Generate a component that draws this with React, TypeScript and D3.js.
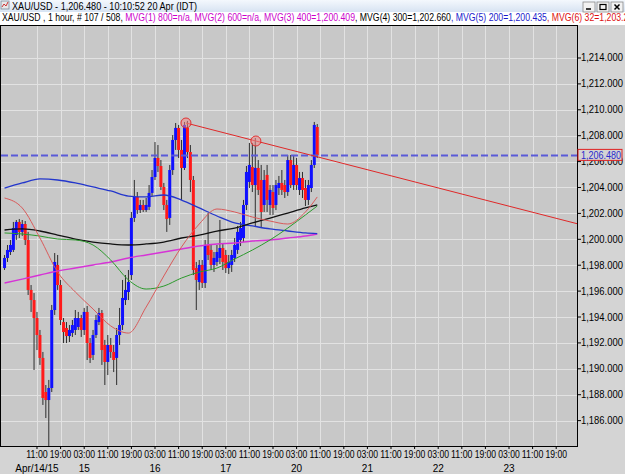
import React from 'react';
import * as d3 from 'd3';

// hourly XAU/USD candles, bar 0 = Apr 14 00:00
const opens = [
  1197.78, 1198.56, 1199.02, 1199.18, 1200.33, 1201.34, 1200.57, 1201.18, 1199.95, 1196.09,
  1195.31, 1193.92, 1192.61, 1190.84, 1188.21, 1187.59, 1188.52, 1194.54, 1198.02, 1196.47,
  1193.61, 1193.15, 1192.53, 1192.77, 1193.0, 1193.23, 1193.92, 1193.0, 1194.39, 1191.99,
  1191.07, 1192.61, 1193.61, 1194.31, 1191.84, 1190.53, 1191.84, 1191.3, 1190.84, 1192.61,
  1193.38, 1195.31, 1195.93, 1197.24, 1201.65, 1203.27, 1202.26, 1202.65, 1202.26, 1202.5,
  1203.58, 1204.81, 1206.28, 1205.66, 1204.04, 1202.65, 1201.65, 1205.35, 1207.67, 1208.6,
  1206.9, 1205.51, 1208.6, 1206.74, 1204.58, 1197.78, 1196.7, 1198.02, 1196.63, 1199.56,
  1199.18, 1198.02, 1198.25, 1198.56, 1199.33, 1198.79, 1197.78, 1198.02, 1198.56, 1199.18,
  1199.95, 1200.1, 1202.65, 1204.43, 1205.58, 1204.19, 1205.51, 1204.58, 1202.65, 1204.97,
  1202.65, 1203.65, 1202.65, 1203.96, 1204.35, 1204.19, 1203.65, 1206.12, 1204.19, 1205.74,
  1203.81, 1204.73, 1203.96, 1203.04, 1203.96, 1205.74, 1208.67,
];
const highs = [
  1198.79, 1199.56, 1199.95, 1201.34, 1201.49, 1201.57, 1201.49, 1201.41, 1200.57, 1196.47,
  1195.85, 1194.39, 1193.0, 1191.3, 1188.75, 1189.14, 1194.93, 1198.94, 1198.79, 1196.86,
  1193.92, 1193.61, 1193.38, 1193.77, 1194.54, 1194.39, 1194.16, 1194.7, 1194.85, 1192.38,
  1193.0, 1194.16, 1194.7, 1194.54, 1192.23, 1192.61, 1192.38, 1191.84, 1193.15, 1194.7,
  1196.86, 1197.24, 1197.63, 1202.11, 1204.58, 1203.65, 1203.04, 1203.04, 1203.19, 1204.19,
  1205.35, 1207.51, 1207.28, 1206.12, 1204.35, 1203.04, 1205.74, 1208.05, 1208.98, 1208.83,
  1207.67, 1209.06, 1209.14, 1207.28, 1204.89, 1198.25, 1198.4, 1198.4, 1199.95, 1202.03,
  1199.64, 1199.02, 1199.56, 1201.49, 1199.64, 1199.18, 1198.79, 1199.18, 1200.1, 1201.03,
  1201.34, 1203.04, 1205.66, 1207.44, 1207.44, 1207.82, 1206.12, 1205.74, 1205.35, 1205.74,
  1204.19, 1204.19, 1204.58, 1204.89, 1205.35, 1204.58, 1206.51, 1206.51, 1206.51, 1206.28,
  1205.2, 1205.2, 1204.58, 1204.58, 1206.12, 1209.06, 1208.9,
];
const lows = [
  1197.63, 1198.25, 1198.79, 1199.02, 1199.95, 1200.1, 1200.26, 1199.56, 1195.7, 1194.39,
  1189.91, 1191.45, 1190.3, 1187.21, 1186.2, 1183.73, 1188.21, 1194.16, 1196.09, 1193.38,
  1191.99, 1191.99, 1192.07, 1192.46, 1192.61, 1193.0, 1192.46, 1192.61, 1190.68, 1190.45,
  1190.68, 1192.38, 1193.38, 1190.3, 1188.75, 1189.52, 1190.84, 1189.75, 1188.75, 1191.84,
  1193.0, 1194.93, 1195.31, 1196.86, 1201.34, 1201.96, 1202.03, 1202.11, 1202.11, 1202.26,
  1203.35, 1204.58, 1205.2, 1203.81, 1202.26, 1200.57, 1201.11, 1204.97, 1206.9, 1206.28,
  1203.04, 1205.35, 1206.28, 1203.65, 1197.24, 1194.54, 1196.09, 1196.24, 1196.24, 1198.4,
  1197.63, 1197.48, 1197.94, 1198.09, 1197.63, 1197.4, 1197.32, 1197.48, 1198.25, 1198.87,
  1199.48, 1199.79, 1202.26, 1203.96, 1203.65, 1200.95, 1203.42, 1200.95, 1202.11, 1202.11,
  1201.88, 1201.88, 1202.26, 1203.42, 1203.42, 1203.19, 1203.35, 1203.96, 1203.81, 1203.81,
  1203.42, 1203.19, 1202.57, 1202.65, 1203.65, 1205.51, 1206.28,
];
const closes = [
  1198.56, 1199.18, 1199.56, 1200.87, 1201.34, 1200.57, 1201.18, 1199.95, 1196.09, 1195.31,
  1193.92, 1192.61, 1190.84, 1187.75, 1187.59, 1188.52, 1194.54, 1198.25, 1196.47, 1193.77,
  1192.84, 1192.53, 1193.0, 1193.38, 1193.92, 1193.92, 1193.0, 1194.39, 1191.99, 1190.84,
  1192.61, 1193.77, 1194.31, 1191.45, 1190.53, 1191.84, 1191.3, 1190.68, 1192.61, 1193.38,
  1195.47, 1196.09, 1196.7, 1201.65, 1203.27, 1202.26, 1202.65, 1202.26, 1202.65, 1203.58,
  1204.81, 1206.28, 1205.66, 1204.04, 1202.65, 1201.57, 1205.35, 1207.67, 1208.6, 1206.9,
  1205.51, 1208.83, 1206.74, 1204.58, 1197.63, 1196.86, 1198.02, 1196.63, 1199.56, 1198.79,
  1198.02, 1198.56, 1199.02, 1199.33, 1198.25, 1197.78, 1198.25, 1198.79, 1199.56, 1200.57,
  1200.87, 1202.65, 1205.2, 1205.74, 1204.19, 1205.51, 1203.81, 1202.11, 1204.58, 1203.04,
  1203.81, 1202.42, 1204.19, 1204.35, 1203.81, 1203.65, 1206.12, 1204.19, 1205.74, 1204.19,
  1204.73, 1203.81, 1203.04, 1204.19, 1205.74, 1208.83, 1206.48,
];

// moving averages read at these bars
const maIdx = [0, 6, 12, 18, 24, 30, 36, 42, 48, 54, 60, 66, 72, 78, 84, 90, 96, 102, 106];
const ma32 = [1203.19, 1202.42, 1200.1, 1197.47, 1195.93, 1194.62, 1193.31, 1192.76, 1194.77, 1197.17, 1199.41, 1201.18, 1202.34, 1202.11, 1201.72, 1201.41, 1201.18, 1202.11, 1203.27];
const ma200 = [1203.96, 1204.35, 1204.66, 1204.58, 1204.35, 1204.04, 1203.73, 1203.34, 1203.27, 1203.42, 1203.03, 1202.42, 1201.8, 1201.26, 1201.03, 1200.8, 1200.64, 1200.49, 1200.44];
const ma300 = [1200.72, 1200.8, 1200.64, 1200.33, 1200.02, 1199.79, 1199.64, 1199.56, 1199.64, 1199.79, 1200.1, 1200.33, 1200.64, 1200.87, 1201.26, 1201.64, 1202.03, 1202.42, 1202.66];
const ma400 = [1196.63, 1196.93, 1197.24, 1197.55, 1197.78, 1198.02, 1198.25, 1198.56, 1198.79, 1199.02, 1199.25, 1199.48, 1199.64, 1199.71, 1199.87, 1199.95, 1200.1, 1200.25, 1200.41];
const maGreen = [1200.49, 1200.41, 1200.25, 1200.02, 1199.95, 1199.56, 1198.4, 1196.86, 1196.16, 1196.39, 1197.01, 1197.47, 1197.78, 1198.48, 1199.17, 1199.95, 1200.87, 1201.88, 1202.57];

const hourLabels = [
  '11:00', '19:00', '03:00', '11:00', '19:00', '03:00', '11:00', '19:00', '03:00', '11:00', '19:00', '03:00',
  '11:00', '19:00', '03:00', '11:00', '19:00', '03:00', '11:00', '19:00', '03:00', '11:00', '19:00',
];
const firstLabelBar = 11;
const barsPerLabel = 8;
const dayLabels = ['Apr/14/15', '15', '16', '17', '20', '21', '22', '23'];
const daySlots = [0, 2, 5, 8, 11, 14, 17, 20];

const priceTicks = [1186, 1188, 1190, 1192, 1194, 1196, 1198, 1200, 1202, 1204, 1206, 1208, 1210, 1212, 1214];
const lastPrice = 1206.48;
// trend line anchors (bar, price)
const trendA = [61.5, 1208.98];
const trendB = [85.2, 1207.59];

// header info line, coloured parts
const infoParts = [
  { t: 'XAU/USD , 1 hour, # 107 / 508, ', c: '#000000' },
  { t: 'MVG(1) 800=n/a, MVG(2) 600=n/a, MVG(3) 400=1,200.409', c: '#cc00cc' },
  { t: ', MVG(4) 300=1,202.660', c: '#000000' },
  { t: ', MVG(5) 200=1,200.435', c: '#1a1acc' },
  { t: ', MVG(6) 32=1,203.272', c: '#dd1111' },
];

const W = 625;
const H = 474;
const plot = { left: 1, right: 577, top: 26, bottom: 446 };
const FONT = '"Liberation Sans", Arial, sans-serif';

const fmt = d3.format(',.3f');

export default function App() {
  const x = d3.scaleLinear().domain([-1.2, 194.05]).range([plot.left, plot.right]);
  const y = d3.scaleLinear().domain([1184.04, 1216.47]).range([plot.bottom, plot.top]);

  const maPath = (vals: number[]) =>
    d3
      .line<number>()
      .x((_, k) => x(maIdx[k]))
      .y((v) => y(v))
      .curve(d3.curveMonotoneX)(vals) || '';

  const slope = (trendB[1] - trendA[1]) / (trendB[0] - trendA[0]);
  const endBar = x.domain()[1];
  const trendEnd = trendA[1] + slope * (endBar - trendA[0]);

  const labelBar = (k: number) => firstLabelBar + k * barsPerLabel;
  const bodyW = 3;

  return (
    <svg width={W} height={H} style={{ position: 'absolute', left: 0, top: 0 }} fontFamily={FONT}>
      <defs>
        <linearGradient id='tb' x1='0' y1='0' x2='0' y2='1'>
          <stop offset='0' stopColor='#f4f8fd' />
          <stop offset='1' stopColor='#d7e3f2' />
        </linearGradient>
        <clipPath id='pc'>
          <rect x={plot.left} y={plot.top} width={plot.right - plot.left} height={plot.bottom - plot.top} />
        </clipPath>
      </defs>

      <rect width={W} height={H} fill='#d4d4d4' />

      {/* window title */}
      <rect x={0} y={0} width={W} height={12} fill='url(#tb)' />
      <rect x={0} y={12} width={W} height={13} fill='#ffffff' />
      <rect x={1} y={1} width={8} height={8} fill='#e8e8e8' stroke='#7a8a9a' strokeWidth={0.8} />
      <path d='M2,7 L4,4 L6,6 L8,2' fill='none' stroke='#cc3333' strokeWidth={1} />
      <text x={12} y={9.5} fontSize={11.5} textLength={185} lengthAdjust='spacingAndGlyphs' fill='#000'>
        XAU/USD - 1,206.480 - 10:10:52  20 Apr (IDT)
      </text>

      {/* info line */}
      <text x={2} y={21} fontSize={10} textLength={636} lengthAdjust='spacingAndGlyphs' xmlSpace='preserve'>
        {infoParts.map((p, k) => (
          <tspan key={k} fill={p.c}>{p.t}</tspan>
        ))}
      </text>

      {[583, 597, 611].map((bx, k) => (
        <g key={bx}>
          <rect x={bx} y={2} width={12} height={10} fill='#f2f2f2' stroke='#8a8a8a' strokeWidth={0.8} />
          {k === 0 && <line x1={bx + 3} x2={bx + 8} y1={9} y2={9} stroke='#000' strokeWidth={1.5} />}
          {k === 1 && <rect x={bx + 3} y={4.5} width={6} height={5} fill='none' stroke='#000' strokeWidth={1.2} />}
          {k === 2 && <path d={`M${bx + 3.5},4.5 L${bx + 8.5},9.5 M${bx + 8.5},4.5 L${bx + 3.5},9.5`} stroke='#000' strokeWidth={1.5} />}
        </g>
      ))}

      {/* plot area */}
      <rect x={plot.left} y={plot.top} width={plot.right - plot.left} height={plot.bottom - plot.top} fill='#c8c8c8' />

      <g stroke='#e2e2e2' strokeWidth={1}>
        {priceTicks.map((p) => (
          <line key={p} x1={plot.left} x2={plot.right} y1={Math.round(y(p)) + 0.5} y2={Math.round(y(p)) + 0.5} />
        ))}
        {hourLabels.map((_, k) => (
          <line key={k} x1={Math.round(x(labelBar(k))) + 0.5} x2={Math.round(x(labelBar(k))) + 0.5} y1={plot.top} y2={plot.bottom} />
        ))}
      </g>

      <g clipPath='url(#pc)'>
        {/* candles */}
        {opens.map((o, i) => {
          const c = closes[i];
          const up = c >= o;
          const cx = x(i);
          const top = y(Math.max(o, c));
          const bot = y(Math.min(o, c));
          return (
            <g key={i}>
              <line x1={cx} x2={cx} y1={y(highs[i])} y2={y(lows[i])} stroke='#2e2e2e' strokeWidth={1} />
              <rect x={cx - bodyW / 2} y={top} width={bodyW} height={Math.max(1, bot - top)} fill={up ? '#1010ff' : '#ff1a1a'} />
            </g>
          );
        })}

        {/* moving averages */}
        <path d={maPath(ma400)} fill='none' stroke='#d633d6' strokeWidth={1.4} />
        <path d={maPath(ma200)} fill='none' stroke='#2336cc' strokeWidth={1.3} />
        <path d={maPath(ma300)} fill='none' stroke='#111111' strokeWidth={1.3} />
        <path d={maPath(maGreen)} fill='none' stroke='#2c9a2c' strokeWidth={1} />
        <path d={maPath(ma32)} fill='none' stroke='#d95a5a' strokeWidth={1} />

        {/* last price */}
        <line x1={plot.left} x2={plot.right} y1={y(lastPrice)} y2={y(lastPrice)} stroke='#5a5ad8' strokeWidth={2} strokeDasharray='7,3' />

        {/* trend line */}
        <line x1={x(trendA[0])} y1={y(trendA[1])} x2={x(endBar)} y2={y(trendEnd)} stroke='#e02828' strokeWidth={1} />
        {[trendA, trendB].map((p, k) => (
          <circle key={k} cx={x(p[0])} cy={y(p[1])} r={5} fill='rgba(240,140,140,0.55)' stroke='#e03030' strokeWidth={1} />
        ))}
      </g>

      <rect x={plot.left - 0.5} y={plot.top - 0.5} width={plot.right - plot.left + 1} height={plot.bottom - plot.top + 1} fill='none' stroke='#000' strokeWidth={1} />

      {/* right price axis */}
      <g fontSize={10} fill='#000'>
        {priceTicks.map((p) => (
          <g key={p}>
            <line x1={plot.right} x2={plot.right + 4} y1={y(p)} y2={y(p)} stroke='#000' strokeWidth={1} />
            <text x={plot.right + 4} y={y(p) + 3.5} textLength={42} lengthAdjust='spacingAndGlyphs'>{fmt(p)}</text>
          </g>
        ))}
      </g>
      <rect x={plot.right + 1} y={y(lastPrice) - 6} width={44} height={11} fill='#d4d4d4' stroke='#e02020' strokeWidth={1} />
      <text x={plot.right + 4} y={y(lastPrice) + 3.5} fontSize={10} fill='#2a2acc' textLength={40} lengthAdjust='spacingAndGlyphs'>
        {fmt(lastPrice)}
      </text>

      {/* time axis */}
      <g fontSize={10} fill='#000' textAnchor='middle'>
        {hourLabels.map((t, k) => (
          <g key={k}>
            <line x1={x(labelBar(k))} x2={x(labelBar(k))} y1={plot.bottom} y2={plot.bottom + 3} stroke='#000' strokeWidth={1} />
            <text x={x(labelBar(k))} y={458} textLength={21.5} lengthAdjust='spacingAndGlyphs'>{t}</text>
          </g>
        ))}
        {dayLabels.map((d, k) => (
          <text key={d} x={x(labelBar(daySlots[k]))} y={472}>{d}</text>
        ))}
      </g>
    </svg>
  );
}
